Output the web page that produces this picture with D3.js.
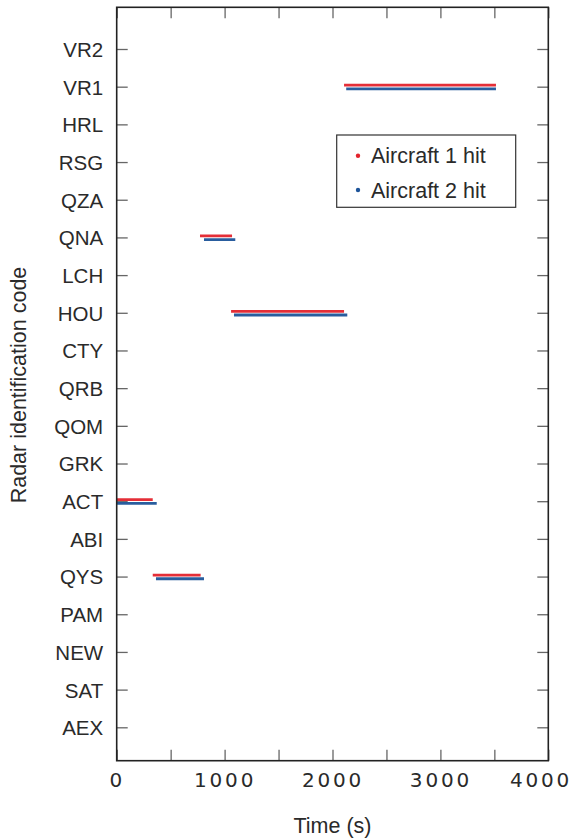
<!DOCTYPE html>
<html>
<head>
<meta charset="utf-8">
<script src="https://cdn.jsdelivr.net/npm/d3@7"></script>
<style>
    body { margin: 0; background: #fff; }
    svg { display: block; }
    .tick line { stroke: #666; stroke-width: 1.3; }
    .ylab text { font-family: 'Liberation Sans', Arial, sans-serif; font-size: 20.5px; fill: #2a2a2a; }
    .xlab text { font-family: 'DejaVu Sans', sans-serif; font-size: 20px; fill: #2a2a2a; letter-spacing: 2.8px; }
</style>
</head>
<body>
<svg id="chart" width="582" height="840"></svg>
<script>
const radars = ['VR2', 'VR1', 'HRL', 'RSG', 'QZA', 'QNA', 'LCH', 'HOU', 'CTY', 'QRB',
    'QOM', 'GRK', 'ACT', 'ABI', 'QYS', 'PAM', 'NEW', 'SAT', 'AEX']

// time spans (s) during which each radar reported the aircraft
const aircraft1Radar = ['ACT', 'QYS', 'QNA', 'HOU', 'VR1']
const aircraft1Start = [0, 334, 772, 1060, 2107]
const aircraft1End = [334, 778, 1069, 2107, 3515]

const aircraft2Radar = ['ACT', 'QYS', 'QNA', 'HOU', 'VR1']
const aircraft2Start = [0, 364, 809, 1087, 2127]
const aircraft2End = [371, 809, 1099, 2137, 3515]

const xTicks = [0, 500, 1000, 1500, 2000, 2500, 3000, 3500, 4000]
const xLabels = [0, 1000, 2000, 3000, 4000]

const series = [
    { name: 'Aircraft 1 hit', color: '#e3232c', offset: -1.5, radar: aircraft1Radar, start: aircraft1Start, end: aircraft1End },
    { name: 'Aircraft 2 hit', color: '#1d5499', offset: 2.2, radar: aircraft2Radar, start: aircraft2Start, end: aircraft2End }
]

const svg = d3.select('#chart')
const width = +svg.attr('width')
const height = +svg.attr('height')
const margin = { top: 7.3, right: 33.7, bottom: 79.3, left: 116.7 }
const w = width - margin.left - margin.right
const h = height - margin.top - margin.bottom

const g = svg.append('g').attr('transform', `translate(${margin.left},${margin.top})`)

const x = d3.scaleLinear().domain([0, 4000]).range([0, w])
const y = d3.scalePoint().domain(radars).range([41.7, h - 33.4])

// ticks, pointing inwards on all four sides
g.append('g').attr('class', 'xlab')
    .attr('transform', `translate(0,${h})`)
    .call(d3.axisBottom(x).tickValues(xTicks).tickSize(-11).tickPadding(12)
        .tickFormat(d => xLabels.includes(d) ? d : ''))
g.append('g')
    .call(d3.axisTop(x).tickValues(xTicks).tickSize(-11).tickFormat(''))
g.append('g').attr('class', 'ylab')
    .call(d3.axisLeft(y).tickSize(-11).tickPadding(13.5))
g.append('g')
    .attr('transform', `translate(${w},0)`)
    .call(d3.axisRight(y).tickSize(-11).tickFormat(''))
g.selectAll('.domain').remove()
g.selectAll('.ylab text').attr('dy', '0.36em')

// keep the last x label inside the page
g.selectAll('.xlab text').each(function () {
    const b = this.getBBox()
    const tx = d3.select(this.parentNode).attr('transform').match(/translate\(([-\d.]+)/)[1]
    const right = margin.left + (+tx) + b.x + b.width
    if (right > width - 10) d3.select(this).attr('dx', (width - 10 - right) + 'px')
})

// hit spans
series.forEach(s => {
    g.append('g').selectAll('line')
        .data(s.radar.map((r, i) => ({ r: r, a: s.start[i], b: s.end[i] })))
        .enter().append('line')
        .attr('x1', d => x(d.a))
        .attr('x2', d => x(d.b))
        .attr('y1', d => y(d.r) + s.offset)
        .attr('y2', d => y(d.r) + s.offset)
        .attr('stroke', s.color)
        .attr('stroke-width', 2.8)
        .attr('stroke-opacity', 0.95)
})

// frame
g.append('rect')
    .attr('width', w).attr('height', h)
    .attr('fill', 'none').attr('stroke', '#222').attr('stroke-width', 1.6)

// legend
const legend = g.append('g').attr('transform', `translate(${336.7 - margin.left},${135 - margin.top})`)
legend.append('rect')
    .attr('width', 179).attr('height', 72.3)
    .attr('fill', '#fff').attr('stroke', '#333').attr('stroke-width', 1.2)
const item = legend.selectAll('.item')
    .data(series).enter().append('g')
    .attr('transform', (d, i) => `translate(0,${20.7 + i * 34.3})`)
item.append('circle')
    .attr('cx', 21.3).attr('r', 2.2)
    .attr('fill', d => d.color)
item.append('text')
    .attr('x', 34.3).attr('dy', '0.36em')
    .style('font-family', "'Liberation Sans', Arial, sans-serif")
    .style('font-size', '21.5px').style('fill', '#2a2a2a')
    .text(d => d.name)

// axis titles
svg.append('text')
    .attr('x', margin.left + w / 2).attr('y', 825).attr('dy', '0.36em')
    .attr('text-anchor', 'middle')
    .style('font-family', "'Liberation Sans', Arial, sans-serif")
    .style('font-size', '21.5px').style('fill', '#2a2a2a')
    .text('Time (s)')
svg.append('text')
    .attr('transform', 'translate(18,385) rotate(-90)')
    .attr('dy', '0.36em')
    .attr('text-anchor', 'middle')
    .style('font-family', "'Liberation Sans', Arial, sans-serif")
    .style('font-size', '21.5px').style('fill', '#2a2a2a')
    .text('Radar identification code')
</script>
</body>
</html>
